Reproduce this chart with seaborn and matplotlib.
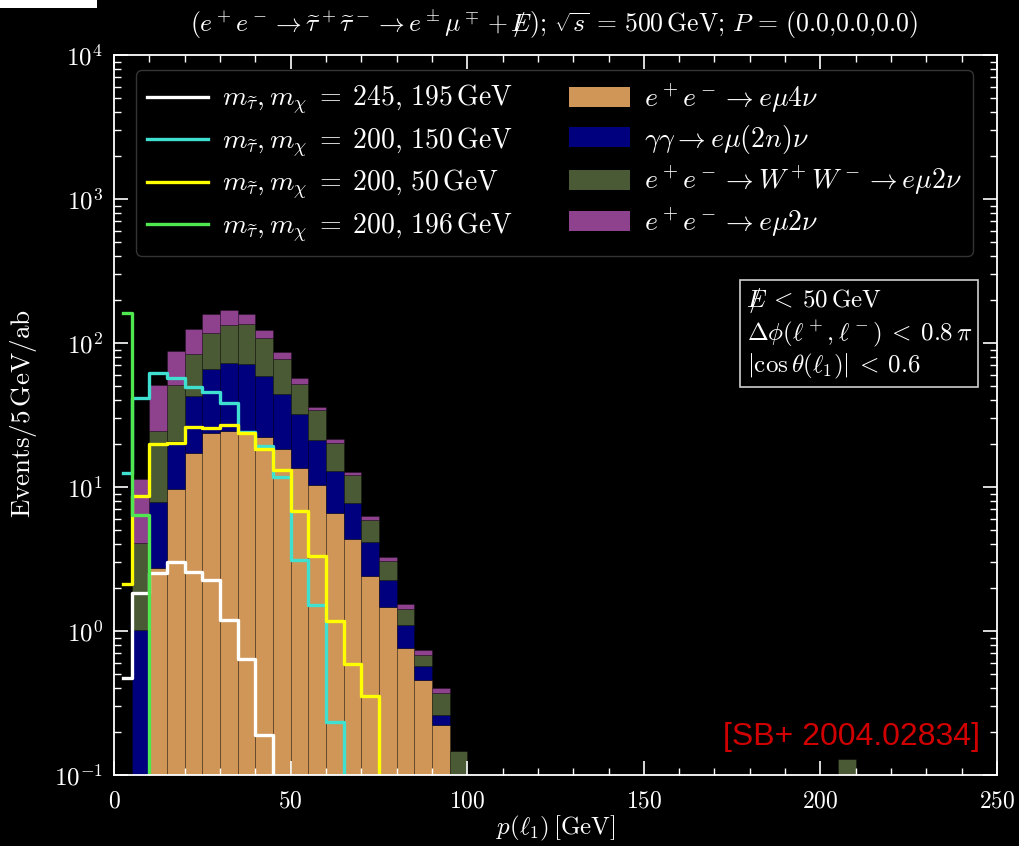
import numpy as np
import pandas as pd
import matplotlib
matplotlib.use("Agg")
import matplotlib.pyplot as plt
import seaborn as sns
from matplotlib.patches import Patch, Rectangle
from matplotlib.lines import Line2D
from matplotlib.ticker import MultipleLocator, LogLocator, NullFormatter

# ---------------- data (events / 5 GeV / ab) ----------------
bin_width = 5
# background bins 0-5, 5-10, ..., 95-100 GeV
bkg_e4nu = [0, 0, 2.76, 9.64, 17.3, 23.9, 24.5, 23.9, 22.4, 18.5,
            13.6, 10.3, 6.64, 4.38, 2.41, 1.48, 0.767, 0.455, 0.222, 0]
bkg_gamgam = [0, 1.01, 5.11, 11.3, 25.6, 41.8, 48.6, 47.2, 36.6, 25.5,
              18.4, 10.9, 6.26, 3.41, 1.74, 0.78, 0.333, 0.116, 0.038, 0]
bkg_ww = [0, 3.10, 16.6, 29.9, 40.5, 52.3, 59.9, 63.9, 50.0, 33.1,
          20.2, 12.9, 7.4, 4.31, 1.72, 0.80, 0.33, 0.11, 0.113, 0.147]
bkg_e2nu = [0, 7.19, 26.3, 37.2, 42.6, 40.0, 36.0, 23.0, 14.0, 9.5,
            4.7, 2.1, 1.4, 0.7, 0.42, 0.23, 0.10, 0.053, 0.027, 0]
ww_tail_center = [207.5]
ww_tail_value = [0.13]

sig_245_195 = [0.472, 1.84, 2.54, 3.03, 2.57, 2.25, 1.19, 0.636, 0.19, 0,
               0, 0, 0, 0, 0, 0, 0, 0, 0, 0]
sig_200_150 = [12.6, 41.3, 61.6, 57.5, 49.8, 46.0, 38.3, 24.0, 19.3, 11.7,
               3.11, 1.52, 0.233, 0, 0, 0, 0, 0, 0, 0]
sig_200_50 = [2.12, 8.66, 20.0, 20.3, 26.1, 25.6, 26.8, 23.9, 18.5, 13.1,
              6.81, 3.32, 1.17, 0.594, 0.354, 0, 0, 0, 0, 0]
sig_200_196 = [162, 6.4, 0, 0, 0, 0, 0, 0, 0, 0,
               0, 0, 0, 0, 0, 0, 0, 0, 0, 0]

bkg_labels = [r'$e^+e^-\to e\mu4\nu$',
              r'$\gamma\gamma\to e\mu(2n)\nu$',
              r'$e^+e^-\to W^+W^-\to e\mu2\nu$',
              r'$e^+e^-\to e\mu2\nu$']
bkg_colors = ['#D09658', '#00007E', '#4A5A35', '#8E418C']
sig_labels = [r'$m_{\widetilde{\tau}}, m_\chi\;=\;245,\,195\,\mathrm{GeV}$',
              r'$m_{\widetilde{\tau}}, m_\chi\;=\;200,\,150\,\mathrm{GeV}$',
              r'$m_{\widetilde{\tau}}, m_\chi\;=\;200,\,50\,\mathrm{GeV}$',
              r'$m_{\widetilde{\tau}}, m_\chi\;=\;200,\,196\,\mathrm{GeV}$']
sig_colors = ['white', '#40E0D0', '#FFFF00', '#50E850']

# ---------------- style ----------------
plt.style.use('dark_background')
plt.rcParams.update({
    'font.family': 'serif',
    'font.serif': ['cmr10', 'DejaVu Serif'],
    'mathtext.fontset': 'cm',
    'axes.formatter.use_mathtext': True,
    'axes.unicode_minus': False,
    'font.size': 17,
})

fig = plt.figure(figsize=(10.2, 8.46), dpi=100)
fig.patch.set_facecolor('black')
ax = fig.add_axes([0.1118, 0.0839, 0.8657, 0.851])
ax.set_facecolor('black')

centers = np.arange(len(bkg_e4nu)) * bin_width + bin_width / 2
rows = []
for lab, vals in zip(bkg_labels, [bkg_e4nu, bkg_gamgam, bkg_ww, bkg_e2nu]):
    for c, v in zip(centers, vals):
        rows.append((c, v, lab))
for c, v in zip(ww_tail_center, ww_tail_value):
    rows.append((c, v, bkg_labels[2]))
df = pd.DataFrame(rows, columns=['p', 'w', 'proc'])

# seaborn stacks the last hue level at the bottom
sns.histplot(data=df, x='p', weights='w', hue='proc', hue_order=bkg_labels[::-1],
             palette=dict(zip(bkg_labels, bkg_colors)),
             binwidth=bin_width, binrange=(0, 250),
             multiple='stack', element='bars', alpha=1.0,
             edgecolor=(0, 0, 0, 0.3), linewidth=0.6, legend=False, ax=ax)

for lab, col, vals in zip(sig_labels, sig_colors,
                          [sig_245_195, sig_200_150, sig_200_50, sig_200_196]):
    sdf = pd.DataFrame({'p': centers, 'v': vals})
    sns.lineplot(data=sdf, x='p', y='v', color=col, lw=2.4,
                 drawstyle='steps-mid', ax=ax, legend=False)

ax.set_yscale('log', nonpositive='clip')
ax.set_xlim(0, 250)
ax.set_ylim(1e-1, 1e4)

ax.xaxis.set_major_locator(MultipleLocator(50))
ax.xaxis.set_minor_locator(MultipleLocator(10))
ax.yaxis.set_major_locator(LogLocator(base=10, numticks=10))
ax.yaxis.set_minor_locator(LogLocator(base=10, subs=np.arange(2, 10), numticks=20))
ax.yaxis.set_minor_formatter(NullFormatter())
ax.tick_params(which='both', direction='in', top=True, right=True,
               colors='white')
ax.tick_params(axis='x', which='major', labelsize=17, pad=11)
ax.tick_params(axis='y', which='major', labelsize=18, pad=8)
ax.tick_params(which='major', length=10, width=1.2)
ax.tick_params(which='minor', length=5, width=1.0)
for s in ax.spines.values():
    s.set_color('white')
    s.set_linewidth(1.3)

ax.set_xlabel(r'$p(\ell_1)\,[\mathrm{GeV}]$', fontsize=18, labelpad=1)
ax.set_ylabel('')
fig.text(24 / 1020, 1 - 414 / 846,
         r'$\mathrm{Events}/5\,\mathrm{GeV}/\mathrm{ab}$',
         rotation=90, ha='center', va='center', fontsize=19.5)

fig.text(0.543, 0.971,
         r'$(e^+e^-\to\widetilde{\tau}^+\widetilde{\tau}^-\to e^\pm\mu^\mp+/\!\!\!\!E);\,\sqrt{s}\,=\,500\,\mathrm{GeV};\,P\,=\,(0.0{,}0.0{,}0.0)$',
         ha='center', va='center', fontsize=18.5)

handles = [Line2D([], [], color=c, lw=2.4) for c in sig_colors] + \
          [Patch(facecolor=c, edgecolor='none') for c in bkg_colors]
leg = ax.legend(handles, sig_labels + bkg_labels, ncol=2, loc='upper left',
                bbox_to_anchor=(0.025, 0.979), fontsize=20, handlelength=2.2,
                handleheight=0.75, handletextpad=0.5, columnspacing=2.0,
                labelspacing=0.3, borderpad=0.4, borderaxespad=0,
                frameon=True, fancybox=True)
leg.get_frame().set_facecolor('black')
leg.get_frame().set_edgecolor('#3a3a3a')
leg.get_frame().set_alpha(0.9)

ax.text(0.9717, 0.679,
        '$/\\!\\!\\!\\!E\\:<\\:50\\,\\mathrm{GeV}$\n'
        '$\\Delta\\phi(\\ell^+,\\ell^-)\\:<\\:0.8\\,\\pi$\n'
        '$|\\cos\\theta(\\ell_1)|\\:<\\:0.6$',
        transform=ax.transAxes, ha='right', va='top', multialignment='left',
        fontsize=18, linespacing=1.15,
        bbox=dict(boxstyle='square,pad=0.25', facecolor='black',
                  edgecolor='#cfcfcf', linewidth=1.2))

ax.text(0.981, 0.032, '[SB+ 2004.02834]', transform=ax.transAxes,
        ha='right', va='bottom', color='#D00000', fontsize=23,
        family='Liberation Sans')

fig.patches.append(Rectangle((0, 1 - 8 / 846), 97 / 1020, 8 / 846,
                             transform=fig.transFigure, facecolor='white',
                             edgecolor='none'))

fig.savefig('out.png', dpi=100, facecolor='black')
